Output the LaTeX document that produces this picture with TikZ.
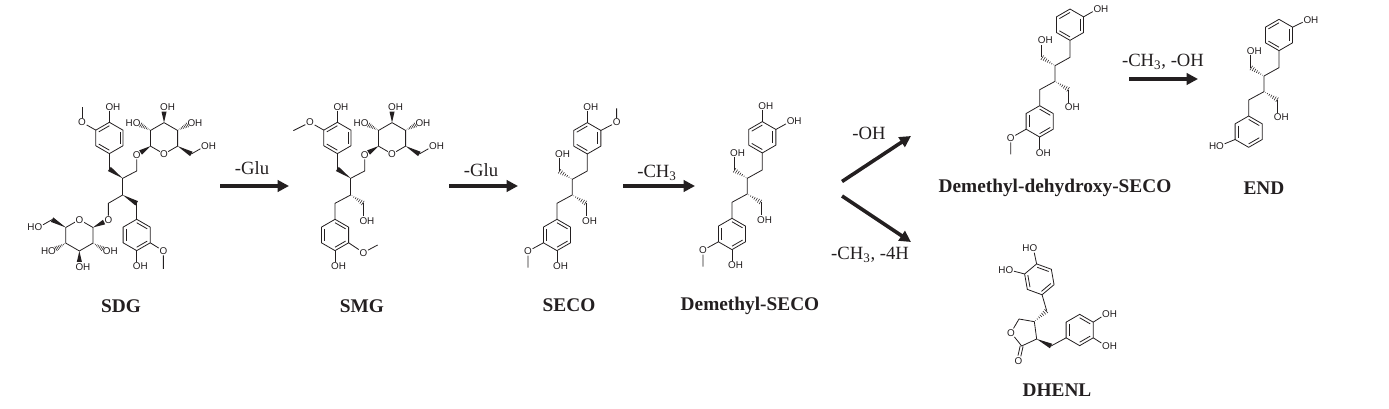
\documentclass[tikz,border=0pt]{standalone}
\usepackage{fontspec}
\setmainfont{Liberation Serif}
\newfontfamily\atomfont{Liberation Sans}
\usetikzlibrary{calc,arrows.meta}
\definecolor{ink}{HTML}{231F20}
\tikzset{%
	bond/.style={line width=0.6pt,line join=round,draw=ink},
	atom/.style={inner sep=0.4pt,text=ink,font=\atomfont\fontsize{7.4}{8}\selectfont},
	title/.style={text=ink,font=\bfseries\fontsize{14.5}{16}\selectfont},
	rxn/.style={text=ink,font=\fontsize{14}{16}\selectfont},
	rxnarrow/.style={line width=2.7pt,draw=ink,-{Triangle[length=8.5pt,width=8.5pt]}},
	mol/.style n args={3}{shift={(#1,#2)},x=0.25pt,y=-0.25pt,name prefix=#3-}
}
\newcommand{\oh}{O\rlap{H}}
\newcommand{\ho}{\llap{H}O}
% wedge: narrow at #2, wide towards #3
\newcommand{\wedgeb}[3][1]{\fill[ink] (#2) -- ($(#2)!#1!(#3)!1.9pt!90:(#2)$) -- ($(#2)!#1!(#3)!1.9pt!-90:(#2)$) -- cycle;}
% hashed bond
\newcommand{\hashb}[3][1]{\foreach \k in {1,...,7}{%
	\pgfmathsetmacro{\tf}{#1*(\k-0.3)/7}
	\pgfmathsetmacro{\hw}{\tf/#1*2}
	\draw[ink,line width=0.4pt] ($(#2)!\tf!(#3)!\hw pt!90:(#3)$) -- ($(#2)!\tf!(#3)!\hw pt!-90:(#3)$);}}
% name, centre, radius, rotation
\newcommand{\hexring}[4]{%
	\coordinate (#1c) at (#2);
	\path (#1c) +(-90+#4:#3) coordinate (#1t) +(-30+#4:#3) coordinate (#1ur) +(30+#4:#3) coordinate (#1lr)
		+(90+#4:#3) coordinate (#1b) +(150+#4:#3) coordinate (#1ll) +(210+#4:#3) coordinate (#1ul);
	\draw[bond] (#1t) -- (#1ur) -- (#1lr) -- (#1b) -- (#1ll) -- (#1ul) -- cycle;}
\newcommand{\aryl}[5]{\hexring{#1}{#2}{#3}{#4}%
	\foreach \p/\q in {#5} \draw[bond] ($(#1c)!0.78!(#1\p)$) -- ($(#1c)!0.78!(#1\q)$);}
% name, centre, 1 or -1 (upside down), two label texts
\newcommand{\sugar}[5]{%
	\begin{scope}[shift={(#2)},xscale=#3,yscale=#3]
		\hexring{#1}{0,0}{47}{0}
		\node [atom,fill=white] (#1o) at (#1b) {O};
		\node [atom] (#1oa) at (-82,-47) {#4};
		\node [atom] (#1ob) at (0,-94) {\oh};
		\node [atom] (#1oc) at (82,-47) {#5};
		\coordinate (#1m) at (82,47);
		\node [atom] (#1od) at (123,23.5) {#5};
		\draw [bond] (#1m) -- (#1od);
		\hashb[0.74]{#1ul}{#1oa}
		\wedgeb[0.7]{#1t}{#1ob}
		\hashb[0.74]{#1ur}{#1oc}
		\wedgeb{#1lr}{#1m}
	\end{scope}}
% upper half of SDG and SMG, origin at the ring-side stereo carbon
\newcommand{\glyarm}{%
	\coordinate (c8) at (0,0);
	\coordinate (c7) at (-40,-28);
	\coordinate (c9) at (42,-22);
	\aryl{ra}{-40,-121}{47}{0}{ur/lr,b/ll,ul/t}
	\node [atom] (oa) at (-40,-215) {\oh};
	\node [atom] (ob) at (-122,-168) {O};
	\node [atom] (oc) at (42,-70) {O};
	\draw [bond] (rat) -- (oa);
	\draw [bond] (raul) -- (ob);
	\draw [bond] (rab) -- (c7);
	\draw [bond] (c8) -- (c9) -- (oc);
	\draw [bond] (c8) -- (0,50) coordinate (c8b);
	\wedgeb{c8}{c7}
	\sugar{g}{124,-120}{1}{\ho}{\oh}
	\wedgeb[0.72]{gll}{oc}}
% shared chain of SECO and its relatives, origin at the upper stereo carbon
\newcommand{\secocore}{%
	\coordinate (c8) at (0,0);
	\coordinate (c7) at (45,-25);
	\coordinate (c9) at (-40,-25);
	\coordinate (c8b) at (0,47);
	\coordinate (c9b) at (41,72);
	\coordinate (c7b) at (-46,72);
	\node [atom] (oa) at (-40,-76) {\oh};
	\node [atom] (ob) at (41,124) {\oh};
	\draw [bond] (rab) -- (c7) -- (c8) -- (c8b) -- (c7b) -- (rbt);
	\draw [bond] (c9) -- (oa);
	\draw [bond] (c9b) -- (ob);
	\hashb{c8}{c9}
	\hashb{c8b}{c9b}}

\begin{document}
\begin{tikzpicture}[x=0.75pt,y=-0.75pt]
	\useasboundingbox (0,0) rectangle (1389,409);
	% SDG
	\begin{scope}[mol={122.7}{178.3}{sdg}]
		\glyarm
		\coordinate (me) at (-122,-215);
		\draw [bond] (ob) -- (me);
		\coordinate (c9b) at (-43,75);
		\coordinate (c7b) at (42,75);
		\node [atom] (od) at (-43,125) {O};
		\aryl{rb}{42,170}{47}{0}{t/ur,b/lr,ul/ll}
		\node [atom] (oe) at (42,264) {\oh};
		\node [atom] (of) at (122,218) {O};
		\coordinate (mf) at (122,272);
		\draw [bond] (c8b) -- (c9b) -- (od);
		\draw [bond] (c7b) -- (rbt);
		\draw [bond] (rbb) -- (oe);
		\draw [bond] (rblr) -- (of) -- (mf);
		\wedgeb{c8b}{c7b}
		\sugar{h}{-130,171}{-1}{\oh}{\ho}
		\wedgeb[0.72]{hll}{od}
	\end{scope}
	\node [title] (sdg) at (121,306) {SDG};
	% SMG
	\begin{scope}[mol={350.7}{178.3}{smg}]
		\glyarm
		\coordinate (me) at (-172,-143);
		\draw [bond] (ob) -- (me);
		\coordinate (c9b) at (38,75);
		\coordinate (c7b) at (-47,75);
		\node [atom] (od) at (38,127) {\oh};
		\aryl{rb}{-47,170}{47}{0}{t/ur,b/lr,ul/ll}
		\node [atom] (oe) at (-47,264) {\oh};
		\node [atom] (of) at (38,223) {O};
		\coordinate (mf) at (81,200);
		\draw [bond] (c8b) -- (c7b) -- (rbt);
		\draw [bond] (c9b) -- (od);
		\draw [bond] (rbb) -- (oe);
		\draw [bond] (rblr) -- (of) -- (mf);
		\hashb{c8b}{c9b}
	\end{scope}
	\node [title] (smg) at (362,306) {SMG};
	% SECO
	\begin{scope}[mol={572.3}{179.3}{seco}]
		\aryl{ra}{45,-123}{47}{0}{ur/lr,b/ll,ul/t}
		\aryl{rb}{-46,167}{47}{0}{t/ur,b/lr,ul/ll}
		\secocore
		\node [atom] (oc) at (45,-217) {\oh};
		\node [atom] (od) at (133,-171) {O};
		\coordinate (md) at (133,-213);
		\node [atom] (oe) at (-46,261) {\oh};
		\node [atom] (of) at (-133,216) {O};
		\coordinate (mf) at (-133,265);
		\draw [bond] (rat) -- (oc);
		\draw [bond] (raur) -- (od) -- (md);
		\draw [bond] (rbb) -- (oe);
		\draw [bond] (rbll) -- (of) -- (mf);
	\end{scope}
	\node [title] (seco) at (569,305) {SECO};
	% Demethyl-SECO
	\begin{scope}[mol={747.3}{178.3}{dmseco}]
		\aryl{ra}{45,-123}{47}{0}{ur/lr,b/ll,ul/t}
		\aryl{rb}{-46,167}{47}{0}{t/ur,b/lr,ul/ll}
		\secocore
		\node [atom] (oc) at (45,-217) {\oh};
		\node [atom] (od) at (130,-171) {\oh};
		\node [atom] (oe) at (-46,261) {\oh};
		\node [atom] (of) at (-133,216) {O};
		\coordinate (mf) at (-133,265);
		\draw [bond] (rat) -- (oc);
		\draw [bond] (raur) -- (od);
		\draw [bond] (rbb) -- (oe);
		\draw [bond] (rbll) -- (of) -- (mf);
	\end{scope}
	\node [title] (dmseco) at (750,306) {Demethyl-SECO};
	% Demethyl-dehydroxy-SECO
	\begin{scope}[mol={1055}{65.7}{ddseco}]
		\aryl{ra}{45,-123}{47}{0}{ur/lr,b/ll,ul/t}
		\aryl{rb}{-46,167}{47}{0}{t/ur,b/lr,ul/ll}
		\secocore
		\node [atom] (od) at (127,-170) {\oh};
		\node [atom] (oe) at (-46,263) {\oh};
		\node [atom] (of) at (-133,217) {O};
		\coordinate (mf) at (-133,266);
		\draw [bond] (raur) -- (od);
		\draw [bond] (rbb) -- (oe);
		\draw [bond] (rbll) -- (of) -- (mf);
	\end{scope}
	\node [title] (ddseco) at (1055,188) {Demethyl-dehydroxy-SECO};
	% END
	\begin{scope}[mol={1264}{76}{endmol}]
		\aryl{ra}{45,-123}{47}{0}{ur/lr,b/ll,ul/t}
		\aryl{rb}{-46,167}{47}{0}{t/ur,b/lr,ul/ll}
		\secocore
		\node [atom] (od) at (130,-168) {\oh};
		\node [atom] (of) at (-132,209) {\ho};
		\draw [bond] (raur) -- (od);
		\draw [bond] (rbll) -- (of);
	\end{scope}
	\node [title] (endmol) at (1264,188) {END};
	% DHENL
	\begin{scope}[mol={980}{240}{dhenl}]
		\aryl{ra}{178,118}{47}{-10}{t/ur,lr/b,ll/ul}
		\aryl{rb}{299,270}{47}{0}{t/ur,b/lr,ul/ll}
		\node [atom] (oa) at (160,25) {\ho};
		\node [atom] (ob) at (88,90) {\ho};
		\node [atom] (oc) at (378,222) {\oh};
		\node [atom] (od) at (378,318) {\oh};
		\coordinate (ca) at (200,212);
		\coordinate (cb) at (213,318);
		\coordinate (cc) at (163,245);
		\coordinate (cd) at (170,297);
		\coordinate (ce) at (125,318);
		\coordinate (cf) at (117,237);
		\node [atom] (oe) at (93,278) {O};
		\node [atom] (of) at (115,362) {O};
		\coordinate (cg) at ($(ce)!0.68!(of)$);
		\draw [bond] (rat) -- (oa);
		\draw [bond] (raul) -- (ob);
		\draw [bond] (rbur) -- (oc);
		\draw [bond] (rblr) -- (od);
		\draw [bond] (rab) -- (ca);
		\draw [bond] (cb) -- (rbll);
		\draw [bond] (cc) -- (cd) -- (ce) -- (oe) -- (cf) -- (cc);
		\draw [bond] ($(ce)!1.1pt!90:(cg)$) -- ($(cg)!1.1pt!-90:(ce)$);
		\draw [bond] ($(ce)!1.1pt!-90:(cg)$) -- ($(cg)!1.1pt!90:(ce)$);
		\hashb{cc}{ca}
		\wedgeb{cd}{cb}
	\end{scope}
	\node [title] (dhenl) at (1057,390) {DHENL};
	% arrows
	\coordinate (a1) at (220,186);
	\coordinate (b1) at (289,186);
	\coordinate (a2) at (449,186);
	\coordinate (b2) at (518,186);
	\coordinate (a3) at (623,186);
	\coordinate (b3) at (695,186);
	\coordinate (a4) at (842,181.5);
	\coordinate (b4) at (911,136);
	\coordinate (a5) at (842,196);
	\coordinate (b5) at (911,242);
	\coordinate (a6) at (1129,79);
	\coordinate (b6) at (1198,79);
	\foreach \i in {1,...,6} \draw [rxnarrow] (a\i) -- (b\i);
	\node [rxn] (l1) at (252,168) {-Glu};
	\node [rxn] (l2) at (481,170) {-Glu};
	\node [rxn] (l3) at (657,173) {-CH\textsubscript{3}};
	\node [rxn] (l4) at (869,133) {-OH};
	\node [rxn] (l5) at (870,255) {-CH\textsubscript{3}, -4H};
	\node [rxn] (l6) at (1163,62) {-CH\textsubscript{3}, -OH};
\end{tikzpicture}
\end{document}
